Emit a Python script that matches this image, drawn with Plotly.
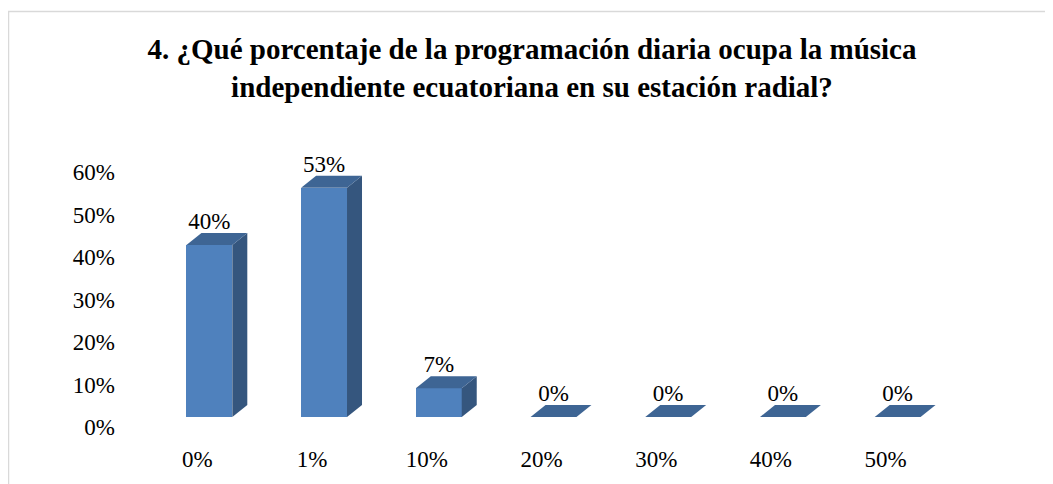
import plotly.graph_objects as go

# data
categories = ["0%", "1%", "10%", "20%", "30%", "40%", "50%"]
shares = [0.40, 0.533, 0.067, 0.0, 0.0, 0.0, 0.0]
y_ticks = [0.0, 0.1, 0.2, 0.3, 0.4, 0.5, 0.6]
y_tick_labels = ["0%", "10%", "20%", "30%", "40%", "50%", "60%"]
title_text = ("4. ¿Qué porcentaje de la programación diaria ocupa la música<br>"
              "independiente ecuatoriana en su estación radial?")

FRONT = "#4F81BD"
SIDE = "#35567E"
TOP = "#3E6594"
FONT = "Liberation Serif"

# the page body adds an 8px margin, so page positions are shifted back by it
OFF = 8
W, H = 1053, 484
L = 152 - OFF
plot_w = 803
R = W - L - plot_w
T = 150 - OFF
bottom = 430 - OFF
B = H - bottom
plot_h = bottom - T

# bar geometry in data units
bar_w = 0.40
dx = 15 / (plot_w / 7.0)     # depth shift, x
dy = 12 / 430.0              # depth shift, y (bar axis: 430 px per unit)
lab_pad = -2 / 430.0

xs = list(range(len(categories)))

fig = go.Figure()

# front faces
fig.add_trace(go.Bar(
    x=xs, y=shares, width=bar_w, yaxis="y2",
    marker=dict(color=FRONT, line=dict(width=0)),
    hoverinfo="skip", showlegend=False,
))

# side and top faces, built from the data values
for x, v in zip(xs, shares):
    x0, x1 = x - bar_w / 2, x + bar_w / 2
    if v > 0:
        fig.add_trace(go.Scatter(
            x=[x1, x1 + dx, x1 + dx, x1, x1],
            y=[0, dy, v + dy, v, 0],
            fill="toself", fillcolor=SIDE, mode="lines",
            line=dict(width=0, color=SIDE), yaxis="y2",
            hoverinfo="skip", showlegend=False,
        ))
    fig.add_trace(go.Scatter(
        x=[x0, x1, x1 + dx, x0 + dx, x0],
        y=[v, v, v + dy, v + dy, v],
        fill="toself", fillcolor=TOP, mode="lines",
        line=dict(width=0, color=TOP), yaxis="y2",
        hoverinfo="skip", showlegend=False,
    ))

# data labels
fig.add_trace(go.Scatter(
    x=xs, y=[v + dy + lab_pad for v in shares], yaxis="y2",
    mode="text", text=[f"{v:.0%}" for v in shares],
    textposition="top center",
    textfont=dict(family=FONT, size=23, color="#000000"),
    cliponaxis=False, hoverinfo="skip", showlegend=False,
))

# invisible trace so the value axis (tick labels) is drawn
fig.add_trace(go.Scatter(
    x=xs, y=shares, mode="markers", marker=dict(opacity=0),
    hoverinfo="skip", showlegend=False,
))

# value axis used for tick labels: 0 at page y=427, 425 px per unit
px_unit = 425.0
y_lo = -(430 - 427) / px_unit
y_hi = y_lo + plot_h / px_unit
# bar axis: 0 at page y=417, 430 px per unit
y2_lo = -(430 - 417) / 430.0
y2_hi = y2_lo + plot_h / 430.0


def px_to_paper_x(px):
    return (px - OFF - L) / plot_w


def px_to_paper_y(py):
    return (bottom - (py - OFF)) / plot_h


# chart area border (left and top edges visible)
fig.add_shape(
    type="rect", xref="paper", yref="paper",
    x0=px_to_paper_x(8.5), x1=px_to_paper_x(W + 20),
    y0=px_to_paper_y(H + 20), y1=px_to_paper_y(11.5),
    line=dict(color="#D9D9D9", width=1.5), fillcolor="rgba(0,0,0,0)",
    layer="below",
)

fig.update_layout(
    width=W, height=H,
    margin=dict(l=L, r=R, t=T, b=B),
    paper_bgcolor="white", plot_bgcolor="white",
    bargap=0,
    title=dict(
        text=title_text, x=(532 - OFF) / W, xanchor="center", xref="container",
        y=1 - 51 / H, yanchor="top", yref="container",
        font=dict(family=FONT, size=29, color="#000000", weight="bold"),
    ),
    xaxis=dict(
        range=[-0.5, 6.5], tickmode="array", tickvals=xs, ticktext=categories,
        showgrid=False, zeroline=False, showline=False, ticks="",
        ticklabelshift=-12, ticklabelstandoff=13,
        tickfont=dict(family=FONT, size=23, color="#000000"),
    ),
    yaxis=dict(
        range=[y_lo, y_hi], tickmode="array", tickvals=y_ticks,
        ticktext=y_tick_labels, showgrid=False, zeroline=False,
        showline=False, ticks="", ticklabelstandoff=36,
        tickfont=dict(family=FONT, size=23, color="#000000"),
    ),
    yaxis2=dict(
        range=[y2_lo, y2_hi], overlaying="y", visible=False,
    ),
)

fig.write_html("out.html")
